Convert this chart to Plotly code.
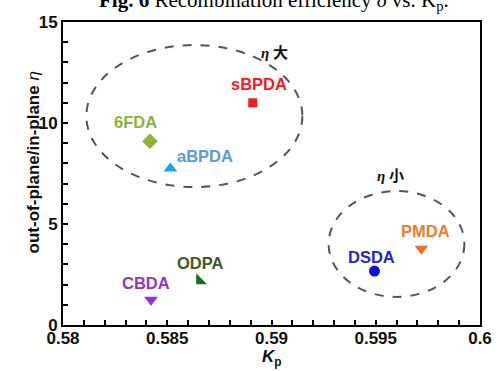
import plotly.graph_objects as go

names = ["sBPDA", "6FDA", "aBPDA", "ODPA", "CBDA", "DSDA", "PMDA"]
kp = [0.5891, 0.58417, 0.58515, 0.58656, 0.58422, 0.59494, 0.59719]
eta = [11.0, 9.1, 7.75, 2.2, 1.25, 2.67, 3.78]

x_ticks = [0.58, 0.585, 0.59, 0.595, 0.6]
x_tick_text = ["0.58", "0.585", "0.59", "0.595", "0.6"]
y_ticks = [0, 5, 10, 15]

# styles
marker_symbols = ["square", "diamond", "triangle-up", "triangle-sw", "triangle-down", "circle", "triangle-down"]
marker_colors = ["#f51a1f", "#8db23a", "#18a8e0", "#1d6b1e", "#9a2fd6", "#1010d8", "#ea7424"]
marker_sizes = [9, 12, 12, 12, 12, 11, 12]
label_colors = ["#f51a1f", "#8db23a", "#5b9bd5", "#3f5a26", "#8a38c4", "#2222dd", "#ed7d31"]
label_dx = [6, -14, 35, 1, -5, -3, 4]
label_dy = [19, 19, 12, 18, 17, 14, 18]

fig = go.Figure()
for i in range(len(names)):
    fig.add_trace(go.Scatter(
        x=[kp[i]], y=[eta[i]], mode="markers",
        marker=dict(symbol=marker_symbols[i], color=marker_colors[i], size=marker_sizes[i], line=dict(width=0)),
        showlegend=False, cliponaxis=False))
    fig.add_annotation(x=kp[i], y=eta[i], text="<b>" + names[i] + "</b>", showarrow=False,
                       xshift=label_dx[i], yshift=label_dy[i],
                       font=dict(family="Liberation Sans, Arial", size=16.5, color=label_colors[i]))

# dashed ellipses
fig.add_shape(type="circle", xref="x", yref="y", x0=0.58112, x1=0.59148, y0=6.83, y1=13.86,
              line=dict(color="#555555", width=2, dash="dash"))
fig.add_shape(type="circle", xref="x", yref="y", x0=0.59274, x1=0.59925, y0=1.39, y1=6.63,
              line=dict(color="#555555", width=2, dash="dash"))

fig.add_annotation(x=0.59015, y=13.5, text="<b><i>η</i></b> <b>大</b>", showarrow=False,
                   font=dict(family="Liberation Serif, Noto Sans CJK SC", size=15, color="#111111"))
fig.add_annotation(x=0.59573, y=7.4, text="<b><i>η</i></b> <b>小</b>", showarrow=False,
                   font=dict(family="Liberation Serif, Noto Sans CJK SC", size=15, color="#111111"))

# partially cut-off caption at top
fig.add_annotation(xref="paper", yref="paper", x=0.506, y=1.0, yshift=21, yanchor="middle",
                   text="<b>Fig. 6</b> Recombination efficiency <i>δ</i> vs. K<sub>p</sub>.",
                   showarrow=False,
                   font=dict(family="Liberation Serif, Times New Roman", size=21, color="#000000"))

# axis titles
fig.add_annotation(xref="paper", yref="paper", x=0.5, y=0, yshift=-33, yanchor="middle",
                   text="<b><i>K</i><sub>p</sub></b>", showarrow=False,
                   font=dict(family="Liberation Sans, Arial", size=17, color="#111111"))
fig.add_annotation(xref="paper", yref="paper", x=0, y=0.535, xshift=-41, textangle=-90,
                   text="<b>out-of-plane/in-plane</b> <i>η</i>", showarrow=False,
                   font=dict(family="Liberation Sans, Arial", size=17, color="#111111"))

axis_font = dict(family="Liberation Sans, Arial", size=17, color="#111111", weight="bold")
fig.update_xaxes(range=[0.58, 0.6], tickvals=x_ticks, ticktext=x_tick_text,
                 showgrid=False, zeroline=False, showline=True, linecolor="#000", linewidth=2,
                 mirror=True, ticks="inside", ticklen=5, tickwidth=1.5, tickcolor="#000",
                 minor=dict(dtick=0.001, ticks="inside", ticklen=5, tickwidth=1.5, tickcolor="#000"),
                 tickfont=axis_font, ticklabelstandoff=-3)
fig.update_yaxes(range=[0, 15], tickvals=y_ticks,
                 showgrid=False, zeroline=False, showline=True, linecolor="#000", linewidth=2,
                 mirror=True, ticks="inside", ticklen=5, tickwidth=1.5, tickcolor="#000",
                 minor=dict(dtick=1, ticks="inside", ticklen=5, tickwidth=1.5, tickcolor="#000"),
                 tickfont=axis_font)

fig.update_layout(width=504, height=371, margin=dict(l=63, r=14, t=22, b=46),
                  plot_bgcolor="white", paper_bgcolor="white",
                  font=dict(family="Liberation Sans, Arial", color="#111111"))
fig.write_html("out.html", config={"displayModeBar": False},
               post_script="document.body.style.margin='0';")
